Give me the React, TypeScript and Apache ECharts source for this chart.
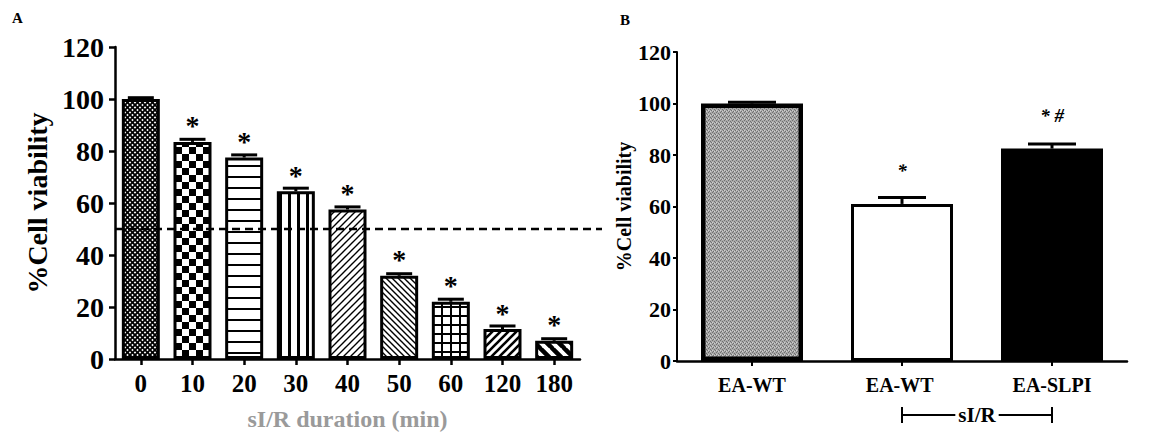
import React, { useEffect, useRef } from "react";
import * as echarts from "echarts";

const FONT = "'Liberation Serif', 'DejaVu Serif', serif";

// Panel A
const categoriesA = ["0", "10", "20", "30", "40", "50", "60", "120", "180"];
const valuesA = [100, 83.5, 77.5, 64.5, 57.5, 32, 22, 11.5, 7];
const errorsA = [0.5, 1.0, 1.0, 1.2, 1.0, 0.8, 1.0, 1.2, 0.8];
const sigA = ["", "*", "*", "*", "*", "*", "*", "*", "*"];
const thresholdA = 50;
const yTicksA = { min: 0, max: 120, interval: 20 };

// Panel B
const categoriesB = ["EA-WT", "EA-WT ", "EA-SLPI"];
const valuesB = [100, 61, 82.5];
const errorsB = [0.5, 2.5, 1.8];
const sigB = ["", "*", "* #"];
const yTicksB = { min: 0, max: 120, interval: 20 };

const patternKindsA = ["mesh", "checker", "hlines", "vlines", "fwd", "back", "grid", "fwdThick", "backThick"];

const gridA = { left: 115, top: 47, width: 465, height: 312 };
const gridB = { left: 677, top: 52, width: 450, height: 309 };

function makeTile(kind: string): HTMLCanvasElement {
  const c = document.createElement("canvas");
  let s = 8;
  if (kind === "mesh") s = 5;
  if (kind === "checker") s = 14;
  if (kind === "hlines") s = 11;
  if (kind === "vlines") s = 9;
  if (kind === "fwd") s = 7;
  if (kind === "back") s = 6;
  if (kind === "grid") s = 9;
  if (kind === "fwdThick") s = 8;
  if (kind === "backThick") s = 12;
  if (kind === "stipple") s = 4;
  c.width = s;
  c.height = s;
  const g = c.getContext("2d")!;
  g.fillStyle = "#fff";
  g.fillRect(0, 0, s, s);
  g.fillStyle = "#000";
  g.strokeStyle = "#000";
  const diag = (dir: number, w: number) => {
    g.lineWidth = w;
    g.beginPath();
    for (let k = -1; k <= 1; k++) {
      if (dir > 0) {
        g.moveTo(k * s - 1, s + 1);
        g.lineTo(k * s + s + 1, -1);
      } else {
        g.moveTo(k * s - 1, -1);
        g.lineTo(k * s + s + 1, s + 1);
      }
    }
    g.stroke();
  };
  switch (kind) {
    case "mesh":
      diag(1, 1.8);
      diag(-1, 1.8);
      break;
    case "checker":
      g.fillRect(0, 0, 7, 7);
      g.fillRect(7, 7, 7, 7);
      break;
    case "hlines":
      g.fillRect(0, 0, s, 2);
      break;
    case "vlines":
      g.fillRect(0, 0, 3, s);
      break;
    case "fwd":
      diag(1, 1.4);
      break;
    case "back":
      diag(-1, 1.4);
      break;
    case "grid":
      g.fillRect(0, 0, s, 2);
      g.fillRect(0, 0, 2, s);
      break;
    case "fwdThick":
      diag(1, 2.6);
      break;
    case "backThick":
      diag(-1, 4.5);
      break;
    case "stipple":
      g.fillStyle = "#a9a9a9";
      g.fillRect(0, 0, s, s);
      g.fillStyle = "#6f6f6f";
      g.fillRect(0, 0, 1, 1);
      g.fillRect(2, 1, 1, 1);
      g.fillRect(1, 3, 1, 1);
      g.fillRect(3, 2, 1, 1);
      g.fillStyle = "#d0d0d0";
      g.fillRect(2, 3, 1, 1);
      g.fillRect(0, 2, 1, 1);
      break;
  }
  return c;
}

function errorRender(capW: number) {
  return (params: any, api: any) => {
    const x = api.value(0);
    const v = api.value(1);
    const e = api.value(2);
    const base = api.coord([x, v]);
    const top = api.coord([x, v + e]);
    return {
      type: "group",
      children: [
        { type: "line", shape: { x1: base[0], y1: base[1], x2: top[0], y2: top[1] }, style: { stroke: "#000", lineWidth: 3 } },
        { type: "line", shape: { x1: top[0] - capW / 2, y1: top[1], x2: top[0] + capW / 2, y2: top[1] }, style: { stroke: "#000", lineWidth: 3 } },
      ],
    };
  };
}

export default function App() {
  const ref = useRef<HTMLDivElement>(null);
  useEffect(() => {
    if (!ref.current) return;
    const chart = echarts.init(ref.current, null, { renderer: "svg" });
    const pat = (kind: string) => ({ image: makeTile(kind), repeat: "repeat" });
    const styleB: any[] = [
      { color: pat("stipple"), borderColor: "#000", borderWidth: 4.5 },
      { color: "#fff", borderColor: "#000", borderWidth: 3 },
      { color: "#000", borderColor: "#000", borderWidth: 2 },
    ];
    const axisLine = { show: true, lineStyle: { color: "#000", width: 2.5 } };
    const option: any = {
      animation: false,
      backgroundColor: "#fff",
      grid: [gridA, gridB],
      xAxis: [
        {
          type: "category",
          gridIndex: 0,
          data: categoriesA,
          axisLine,
          axisTick: { show: true, alignWithLabel: true, length: 6, lineStyle: { color: "#000", width: 2.5 } },
          axisLabel: { color: "#000", fontFamily: FONT, fontWeight: "bold", fontSize: 25, margin: 12 },
          name: "sI/R duration (min)",
          nameLocation: "middle",
          nameGap: 48,
          nameTextStyle: { color: "#9a9a9a", fontFamily: FONT, fontWeight: "bold", fontSize: 24 },
        },
        {
          type: "category",
          gridIndex: 1,
          data: categoriesB,
          axisLine,
          axisTick: { show: true, alignWithLabel: true, length: 5, lineStyle: { color: "#000", width: 2 } },
          axisLabel: { color: "#000", fontFamily: FONT, fontWeight: "bold", fontSize: 20, margin: 14 },
        },
      ],
      yAxis: [
        {
          type: "value",
          gridIndex: 0,
          ...yTicksA,
          axisLine,
          splitLine: { show: false },
          axisTick: { show: true, length: 6, lineStyle: { color: "#000", width: 2.5 } },
          axisLabel: { color: "#000", fontFamily: FONT, fontWeight: "bold", fontSize: 28, margin: 11 },
          name: "%Cell viability",
          nameLocation: "middle",
          nameGap: 64,
          nameTextStyle: { color: "#000", fontFamily: FONT, fontWeight: "bold", fontSize: 28 },
        },
        {
          type: "value",
          gridIndex: 1,
          ...yTicksB,
          axisLine: { show: true, lineStyle: { color: "#000", width: 2 } },
          splitLine: { show: false },
          axisTick: { show: true, length: 4, lineStyle: { color: "#000", width: 2 } },
          axisLabel: { color: "#000", fontFamily: FONT, fontWeight: "bold", fontSize: 22, margin: 6 },
          name: "%Cell viability",
          nameLocation: "middle",
          nameGap: 34,
          nameTextStyle: { color: "#000", fontFamily: FONT, fontWeight: "bold", fontSize: 20 },
        },
      ],
      series: [
        {
          type: "bar",
          xAxisIndex: 0,
          yAxisIndex: 0,
          barWidth: 38,
          data: valuesA.map((v, i) => ({
            value: v,
            itemStyle: { color: pat(patternKindsA[i]), borderColor: "#000", borderWidth: 3 },
          })),
          label: {
            show: true,
            position: "top",
            distance: 2,
            color: "#000",
            fontFamily: FONT,
            fontWeight: "bold",
            fontSize: 28,
            formatter: (p: any) => sigA[p.dataIndex],
          },
        },
        {
          type: "custom",
          xAxisIndex: 0,
          yAxisIndex: 0,
          renderItem: errorRender(26),
          encode: { x: 0, y: 1 },
          data: valuesA.map((v, i) => [i, v, errorsA[i]]),
          z: 5,
        },
        {
          type: "bar",
          xAxisIndex: 1,
          yAxisIndex: 1,
          barWidth: 102,
          data: valuesB.map((v, i) => ({ value: v, itemStyle: styleB[i] })),
          label: {
            show: true,
            position: "top",
            distance: 24,
            color: "#000",
            fontFamily: FONT,
            fontWeight: "bold",
            fontStyle: "italic",
            fontSize: 19,
            formatter: (p: any) => sigB[p.dataIndex],
          },
        },
        {
          type: "custom",
          xAxisIndex: 1,
          yAxisIndex: 1,
          renderItem: errorRender(48),
          encode: { x: 0, y: 1 },
          data: valuesB.map((v, i) => [i, v, errorsB[i]]),
          z: 5,
        },
      ],
    };
    chart.setOption(option);

    const yDash = chart.convertToPixel({ yAxisIndex: 0 } as any, thresholdA) as number;
    const xb1 = chart.convertToPixel({ xAxisIndex: 1 } as any, categoriesB[1]) as number;
    const xb2 = chart.convertToPixel({ xAxisIndex: 1 } as any, categoriesB[2]) as number;
    const yBr = gridB.top + gridB.height + 54;
    chart.setOption({
      graphic: [
        { type: "text", left: 12, top: 10, style: { text: "A", font: `bold 15px ${FONT}`, fill: "#000" } },
        { type: "text", left: 620, top: 12, style: { text: "B", font: `bold 15px ${FONT}`, fill: "#000" } },
        {
          type: "line",
          z: 100,
          shape: { x1: gridA.left, y1: yDash, x2: gridA.left + gridA.width + 22, y2: yDash },
          style: { stroke: "#000", lineWidth: 2.5, lineDash: [8, 5] },
        },
        { type: "line", z: 100, shape: { x1: xb1, y1: yBr, x2: xb2, y2: yBr }, style: { stroke: "#000", lineWidth: 2 } },
        { type: "line", z: 100, shape: { x1: xb1, y1: yBr - 8, x2: xb1, y2: yBr + 8 }, style: { stroke: "#000", lineWidth: 2 } },
        { type: "line", z: 100, shape: { x1: xb2, y1: yBr - 8, x2: xb2, y2: yBr + 8 }, style: { stroke: "#000", lineWidth: 2 } },
        {
          type: "text",
          z: 101,
          x: (xb1 + xb2) / 2,
          y: yBr,
          style: {
            text: "sI/R",
            font: `bold 21px ${FONT}`,
            fill: "#000",
            align: "center",
            verticalAlign: "middle",
            backgroundColor: "#fff",
            padding: [0, 3],
          },
        },
      ],
    });
    return () => chart.dispose();
  }, []);
  return <div ref={ref} style={{ position: "fixed", left: 0, top: 0, width: 1161, height: 444 }} />;
}
